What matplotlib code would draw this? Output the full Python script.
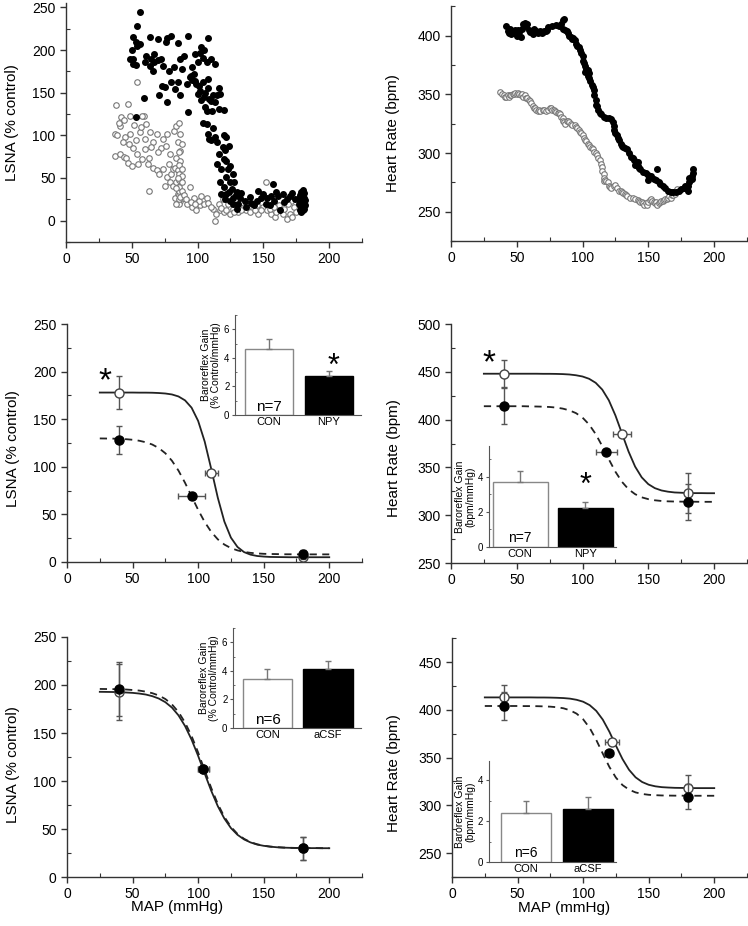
import numpy as np
import matplotlib.pyplot as plt
from matplotlib.ticker import MultipleLocator

plt.rcParams['font.family'] = ['Liberation Sans', 'DejaVu Sans']

# ---- top-left: raw LSNA vs MAP (filled = NPY, open = control)
lsna_npy_x = [56, 54, 51, 53, 56, 54, 50, 49, 51, 51, 53, 59, 53,
              64, 70, 77, 80, 76, 85, 93, 108, 103, 105,
              61, 67, 67, 65, 70, 74, 78, 82, 87, 90, 98, 102, 104, 107, 64, 66, 60, 72, 88, 96, 100, 110, 113,
              73, 75, 71, 77, 80, 85, 87, 83, 92, 94, 97, 98, 101, 102, 104, 108, 109, 103, 100, 93, 106, 111,
              116, 113, 116, 117, 115, 112, 95, 96, 99, 106, 108, 110, 105, 107, 120,
              104, 107, 108, 112, 109, 113, 120, 122, 124, 119, 115, 116, 120, 115, 122, 125, 127, 122, 125, 117,
              120, 126, 130, 122, 125, 127, 132, 127, 131, 136, 118, 110, 118, 121, 123, 128, 124, 129, 133, 121,
              137, 141, 145, 150, 153, 156, 158, 157, 161, 165, 170, 168, 163, 130, 140, 146, 148, 152, 160, 166,
              172, 174, 155, 143,
              178, 178, 178, 178, 179, 179, 179, 179, 179, 180, 180, 180, 180, 180, 181, 181, 181, 181, 182, 182,
              177, 177]
lsna_npy_y = [245, 228, 215, 210, 207, 205, 200, 189, 189, 184, 182, 144, 122,
              215, 213, 214, 217, 210, 208, 216, 214, 204, 200,
              193, 195, 186, 189, 188, 181, 176, 180, 189, 193, 195, 197, 191, 186, 181, 176, 186, 190, 178, 180,
              186, 190, 184,
              158, 157, 147, 139, 162, 162, 147, 154, 160, 168, 172, 164, 158, 152, 162, 166, 143, 141, 148, 127,
              133, 129, 131, 139, 155, 149, 147, 147, 170, 165, 160, 150, 156, 140, 145, 128, 130,
              115, 113, 102, 109, 96, 98, 100, 98, 88, 86, 92, 78, 72, 66, 70, 64, 55, 51, 45, 45,
              39, 37, 33, 31, 23, 27, 27, 20, 20, 23, 31, 95, 60, 83, 60, 45, 33, 30, 32, 25,
              16, 21, 23, 31, 27, 29, 23, 43, 29, 31, 29, 25, 12, 14, 28, 35, 26, 20, 33, 22,
              32, 25, 18, 18,
              12, 18, 24, 30, 10, 15, 21, 27, 33, 12, 18, 24, 30, 36, 14, 20, 26, 32, 18, 24,
              20, 26]
lsna_con_x = [54, 38, 47, 59, 37, 39, 41, 45, 49, 53, 56, 60, 64, 66, 69, 74, 77, 37, 41, 44, 46, 47, 50, 54,
              55, 58, 62, 63, 65, 66, 69, 71, 74, 77, 78, 79, 63, 75, 79, 80, 81, 82, 84, 86, 87, 85, 87, 84,
              83, 85, 87, 81, 84, 85, 87, 83, 89, 92, 96, 99, 102, 105, 107, 97, 101, 103, 94, 108, 112, 113,
              116, 117, 120, 125, 127, 131, 135, 137, 142, 146, 150, 152, 153, 156, 159, 163, 165, 168, 170, 173,
              171, 169,
              42, 49, 58, 40, 44, 52, 57, 61, 72, 76, 70, 60, 51, 48, 43,
              86, 86, 86, 86, 86, 86, 86, 86, 86, 88, 88, 88, 88, 88, 85, 84, 87, 84, 90, 91, 95, 98, 110, 114,
              118, 122, 128, 133, 140, 144, 148, 155, 160, 162, 166, 172, 175, 158, 145, 138, 119, 123]
lsna_con_y = [163, 135, 137, 123, 102, 100, 111, 98, 102, 94, 104, 96, 104, 92, 102, 96, 102, 76, 78, 75, 74,
              68, 64, 78, 66, 72, 66, 74, 86, 62, 59, 55, 61, 51, 66, 78, 35, 41, 45, 55, 61, 105, 111, 115,
              102, 92, 82, 74, 62, 59, 70, 41, 45, 31, 23, 27, 27, 20, 16, 12, 18, 20, 27, 27, 23, 29, 39, 21,
              14, 0, 20, 12, 10, 8, 14, 10, 16, 12, 14, 8, 16, 45, 12, 8, 4, 14, 8, 2, 8, 16, 23, 20,
              121, 123, 123, 115, 118, 112, 110, 113, 85, 88, 80, 84, 85, 90, 92,
              20, 25, 30, 35, 40, 48, 55, 65, 80, 35, 45, 52, 60, 90, 50, 38, 28, 20, 30, 25, 22, 20, 16, 8,
              15, 12, 10, 13, 10, 12, 12, 14, 10, 18, 14, 4, 10, 16, 18, 20, 25, 20]

# ---- top-right: raw heart rate vs MAP
hr_npy_x = [42, 43, 44, 45, 46, 47, 48, 49, 50, 51, 52, 53, 54, 55, 56, 57, 58, 59, 60, 61, 62, 63, 64, 65,
            66, 67, 68, 69, 70, 71, 72, 73, 74, 77, 80, 82, 84, 85, 86, 85, 87, 88, 89, 90, 91, 92, 93, 94,
            95, 96, 97, 98, 99, 100, 100, 101, 102, 102, 103, 104, 104, 105, 105, 106, 107, 108, 109, 109,
            110, 110, 111, 112, 113, 114, 116, 118, 120, 122, 123, 124, 124, 125, 126, 127, 128, 129, 130,
            131, 132, 134, 135, 137, 138, 139, 140, 142, 142, 143, 144, 146, 148, 150, 150, 152, 154, 156,
            157, 158, 159, 161, 163, 165, 167, 169, 171, 173, 175, 177, 178, 179, 180, 181, 182, 183, 184,
            184, 183, 180, 181]
hr_npy_y = [408, 404, 402, 406, 401, 404, 402, 405, 400, 405, 403, 399, 406, 410, 411, 408, 410, 405, 403,
            404, 401, 406, 403, 404, 402, 403, 404, 402, 403, 404, 404, 405, 407, 408, 409, 408, 410, 413,
            414, 406, 405, 404, 402, 400, 399, 397, 398, 396, 393, 391, 390, 388, 385, 383, 378, 377, 374,
            369, 372, 371, 366, 364, 368, 361, 358, 356, 354, 349, 345, 341, 340, 337, 334, 333, 331, 330,
            330, 329, 326, 323, 320, 317, 315, 313, 311, 308, 306, 305, 304, 303, 300, 297, 296, 294, 290,
            289, 292, 287, 286, 284, 283, 281, 277, 280, 278, 277, 286, 275, 274, 272, 270, 268, 267, 267,
            267, 268, 269, 270, 272, 270, 272, 275, 277, 280, 283, 286, 278, 268, 279]
hr_con_x = [37.5, 38.5, 40, 41, 42, 43, 44, 45, 46, 47, 48, 49, 50, 51, 52, 53, 54, 55, 56, 57, 58, 59, 60,
            61, 62, 63, 64, 65, 66, 67, 68, 70, 71, 72, 74, 75, 76, 77, 78, 79, 80, 81, 82, 83, 84, 85, 85,
            86, 87, 88, 89, 90, 91, 92, 94, 95, 96, 97, 98, 99, 100, 101, 102, 103, 104, 105, 106, 107, 108,
            109, 110, 111, 112, 113, 114, 115, 115, 116, 116, 116, 117, 118, 119, 120, 121, 122, 124, 125,
            126, 128, 129, 130, 131, 132, 133, 134, 136, 138, 140, 142, 143, 144, 145, 146, 147, 148, 149,
            150, 151, 152, 153, 154, 155, 156, 157, 158, 159, 160, 161, 162, 163, 164, 165, 166, 167, 168,
            169, 170, 171, 172]
hr_con_y = [352, 350, 349, 348, 348, 349, 348, 349, 349, 350, 350, 351, 350, 351, 350, 349, 350, 348, 349,
            347, 347, 345, 344, 343, 340, 338, 338, 337, 336, 337, 336, 337, 337, 336, 337, 338, 338, 337,
            337, 336, 335, 334, 334, 333, 331, 330, 327, 326, 325, 327, 327, 326, 325, 324, 324, 322, 321,
            320, 318, 317, 315, 313, 311, 310, 308, 307, 305, 304, 303, 301, 300, 298, 296, 294, 291, 288,
            285, 282, 279, 276, 277, 276, 275, 272, 271, 270, 272, 273, 270, 268, 268, 267, 266, 265, 264,
            263, 262, 262, 261, 260, 259, 258, 258, 257, 256, 257, 256, 258, 260, 261, 259, 258, 257, 258,
            256, 257, 258, 259, 259, 260, 261, 261, 262, 263, 262, 264, 264, 265, 268, 269]

# ---- fitted baroreflex curves (every 5 mmHg from 25 to 200)
map_grid = list(range(25, 205, 5))
lsna_con_fit = [178, 178, 178, 178, 178, 178, 177.9, 177.9, 177.8, 177.5, 177.0, 176.0, 173.9, 169.8,
                162.1, 148.2, 126.5, 97.7, 67.5, 42.5, 25.6, 15.8, 10.4, 7.7, 6.3, 5.7, 5.3, 5.2, 5.1,
                5.0, 5.0, 5.0, 5.0, 5.0, 5.0, 5.0]
lsna_npy_fit = [129.8, 129.7, 129.6, 129.4, 129.0, 128.4, 127.4, 125.8, 123.4, 119.7, 114.2, 106.4, 96.0,
                83.2, 69.0, 54.8, 42.0, 31.6, 23.8, 18.3, 14.6, 12.2, 10.6, 9.6, 9.0, 8.6, 8.4, 8.3, 8.1,
                8.1, 8.0, 8.0, 8.0, 8.0, 8.0, 8.0]
hr_con_fit = [448, 448, 448, 448, 448, 448, 448, 448, 448, 447.9, 447.9, 447.8, 447.6, 447.2, 446.4, 445.1,
              442.7, 438.5, 431.4, 420.2, 404.4, 385.5, 366.6, 350.8, 339.6, 332.5, 328.3, 325.9, 324.6,
              323.8, 323.5, 323.2, 323.1, 323.1, 323.0, 323.0]
hr_npy_fit = [414, 414, 414, 414, 414, 414, 414, 413.8, 413.7, 413.5, 413.2, 412.6, 411.5, 409.7, 406.8,
              402.1, 394.9, 384.9, 372.3, 358.5, 345.5, 334.9, 327.1, 322.0, 318.7, 316.8, 315.6, 314.9,
              314.5, 314.3, 314.2, 314.1, 314.1, 314.0, 314.0, 314.0]
lsna_con2_fit = [192.9, 192.8, 192.7, 192.5, 192.2, 191.8, 191.1, 190.1, 188.4, 185.9, 182.1, 176.5, 168.4,
                 157.3, 143.1, 126.2, 107.8, 89.8, 73.8, 60.9, 51.0, 44.0, 39.2, 36.0, 33.8, 32.5, 31.6,
                 31.0, 30.6, 30.4, 30.3, 30.2, 30.1, 30.1, 30.0, 30.0]
lsna_acsf_fit = [195.9, 195.8, 195.7, 195.5, 195.3, 194.8, 194.2, 193.1, 191.5, 189.1, 185.4, 179.8, 171.9,
                 160.9, 146.8, 129.7, 111.1, 92.7, 76.1, 62.6, 52.3, 44.9, 39.8, 36.3, 34.1, 32.6, 31.7,
                 31.1, 30.7, 30.4, 30.3, 30.2, 30.1, 30.1, 30.0, 30.0]
hr_con2_fit = [413, 413, 413, 413, 413, 413, 413, 413, 412.9, 412.9, 412.8, 412.6, 412.3, 411.7, 410.5,
               408.5, 404.9, 398.9, 389.7, 377.1, 362.5, 348.5, 337.2, 329.3, 324.4, 321.5, 319.9, 319.0,
               318.6, 318.3, 318.2, 318.1, 318.0, 318.0, 318.0, 318.0]
hr_acsf_fit = [404, 404, 404, 404, 404, 404, 403.9, 403.9, 403.8, 403.6, 403.3, 402.7, 401.6, 399.5,
               396.0, 390.1, 381.0, 368.5, 354.1, 340.2, 329.0, 321.2, 316.4, 313.5, 311.9, 311.0, 310.6,
               310.3, 310.2, 310.1, 310.1, 310.0, 310.0, 310.0, 310.0, 310.0]

# ---- group means (x, y, x error, y error)
lsna_con_pts = dict(x=[40, 110, 180], y=[178, 93, 5], xerr=[0, 5, 0], yerr=[17, 0, 6])
lsna_npy_pts = dict(x=[40, 95, 180], y=[128, 69, 8], xerr=[0, 10, 0], yerr=[15, 0, 5])
hr_con_pts = dict(x=[40, 130, 180], y=[448, 385, 323], xerr=[0, 7, 0], yerr=[14, 0, 21])
hr_npy_pts = dict(x=[40, 118, 180], y=[414, 366, 314], xerr=[0, 8, 0], yerr=[19, 0, 19])
lsna_con2_pts = dict(x=[40, 104, 180], y=[193, 112, 30], xerr=[0, 4, 0], yerr=[29, 0, 12])
lsna_acsf_pts = dict(x=[40, 104, 180], y=[196, 112, 30], xerr=[0, 4, 0], yerr=[28, 0, 12])
hr_con2_pts = dict(x=[40, 122, 180], y=[413, 366, 318], xerr=[0, 5, 0], yerr=[13, 0, 14])
hr_acsf_pts = dict(x=[40, 120, 180], y=[404, 355, 309], xerr=[0, 3, 0], yerr=[15, 0, 13])

# ---- baroreflex gain bars
gain_lsna_npy = [4.65, 2.75]
gain_lsna_npy_err = [0.65, 0.3]
gain_hr_npy = [3.7, 2.2]
gain_hr_npy_err = [0.65, 0.35]
gain_lsna_acsf = [3.45, 4.1]
gain_lsna_acsf_err = [0.65, 0.6]
gain_hr_acsf = [2.4, 2.6]
gain_hr_acsf_err = [0.6, 0.6]

DARK = '#333333'


def style(ax, xmin, xmax, ymin, ymax, ymajor, yminor):
    for s in ['top', 'right']:
        ax.spines[s].set_visible(False)
    for s in ['left', 'bottom']:
        ax.spines[s].set_color(DARK)
        ax.spines[s].set_linewidth(1.0)
    ax.set_xlim(xmin, xmax)
    ax.set_ylim(ymin, ymax)
    ax.xaxis.set_major_locator(MultipleLocator(50))
    ax.xaxis.set_minor_locator(MultipleLocator(25))
    ax.yaxis.set_major_locator(MultipleLocator(ymajor))
    ax.yaxis.set_minor_locator(MultipleLocator(yminor))
    ax.tick_params(which='major', direction='out', length=4, width=1, color=DARK, labelsize=10)
    ax.tick_params(which='minor', direction='in', length=3, width=0.8, color=DARK)


def curves(ax, con_fit, trt_fit, con, trt):
    ax.plot(map_grid, con_fit, color='#222222', lw=1.3, zorder=2)
    ax.plot(map_grid, trt_fit, color='#222222', lw=1.3, ls=(0, (4, 3)), zorder=2)
    ax.errorbar(con['x'], con['y'], xerr=con['xerr'], yerr=con['yerr'], fmt='o', ms=6.5,
                mfc='white', mec='#444444', mew=1, ecolor='#555555', elinewidth=1, capsize=2, zorder=3)
    ax.errorbar(trt['x'], trt['y'], xerr=trt['xerr'], yerr=trt['yerr'], fmt='o', ms=6.5,
                mfc='black', mec='black', ecolor='#555555', elinewidth=1, capsize=2, zorder=4)


def inset(rect, vals, errs, labels, ylab, ylim, xlim, width, nlabel, nsize, star=None):
    ax = fig.add_axes(rect)
    ax.set_facecolor('none')
    ax.bar([0, 1], vals, width=width, color=['white', 'black'], edgecolor=['#888888', 'black'],
           linewidth=1, zorder=2)
    ax.errorbar([0, 1], vals, yerr=[[0, 0], errs], fmt='none', ecolor='#777777', elinewidth=1,
                capsize=2.5, zorder=3)
    for s in ['top', 'right']:
        ax.spines[s].set_visible(False)
    for s in ['left', 'bottom']:
        ax.spines[s].set_color('#555555')
        ax.spines[s].set_linewidth(0.8)
    ax.set_xlim(*xlim)
    ax.set_ylim(*ylim)
    ax.set_xticks([0, 1])
    ax.set_xticklabels(labels)
    ax.yaxis.set_major_locator(MultipleLocator(2))
    ax.yaxis.set_minor_locator(MultipleLocator(1))
    ax.tick_params(axis='x', length=0, labelsize=8, pad=1.5)
    ax.tick_params(axis='y', which='major', length=2.5, width=0.8, labelsize=7, pad=1.5,
                   color='#555555')
    ax.tick_params(axis='y', which='minor', direction='in', length=1.5, width=0.6, color='#555555')
    ax.set_ylabel(ylab, fontsize=7.5, linespacing=1.0, labelpad=2)
    ax.text(0, ylim[1] * 0.015, nlabel, ha='center', va='bottom', fontsize=nsize)
    if star is not None:
        ax.text(star[0], star[1], '*', ha='center', va='center', fontsize=22)
    return ax


fig = plt.figure(figsize=(7.48, 9.26), dpi=100)

# top-left
ax1 = fig.add_axes([0.0882, 0.7387, 0.3957, 0.2579])
style(ax1, 0, 225, -25, 255, 50, 25)
ax1.scatter(lsna_con_x, lsna_con_y, s=16, facecolors='white', edgecolors='#777777', linewidths=0.8, zorder=2)
ax1.scatter(lsna_npy_x, lsna_npy_y, s=16, color='black', zorder=3)
ax1.set_ylabel('LSNA (% control)', fontsize=11)
ax1.yaxis.set_label_coords(-0.158, 0.5)

# top-right
ax2 = fig.add_axes([0.6029, 0.7397, 0.3957, 0.2535])
style(ax2, 0, 225, 225, 425, 50, 25)
ax2.scatter(hr_con_x, hr_con_y, s=16, facecolors='white', edgecolors='#777777', linewidths=0.8, zorder=2)
ax2.scatter(hr_npy_x, hr_npy_y, s=16, color='black', zorder=3)
ax2.set_ylabel('Heart Rate (bpm)', fontsize=11)
ax2.yaxis.set_label_coords(-0.172, 0.46)

# middle-left
ax3 = fig.add_axes([0.0896, 0.3931, 0.3944, 0.2570])
style(ax3, 0, 225, 0, 250, 50, 25)
curves(ax3, lsna_con_fit, lsna_npy_fit, lsna_con_pts, lsna_npy_pts)
ax3.text(29, 189, '*', ha='center', va='center', fontsize=24)
ax3.set_ylabel('LSNA (% control)', fontsize=11)
ax3.yaxis.set_label_coords(-0.159, 0.475)
inset([0.3142, 0.5518, 0.1684, 0.1080], gain_lsna_npy, gain_lsna_npy_err, ['CON', 'NPY'],
      'Baroreflex Gain\n(% Control/mmHg)', (0, 7), (-0.56, 1.54), 0.8, 'n=7', 11, star=(1.08, 3.4))

# middle-right
ax4 = fig.add_axes([0.6029, 0.3920, 0.3957, 0.2581])
style(ax4, 0, 225, 250, 500, 50, 25)
curves(ax4, hr_con_fit, hr_npy_fit, hr_con_pts, hr_npy_pts)
ax4.text(29, 458, '*', ha='center', va='center', fontsize=24)
ax4.set_ylabel('Heart Rate (bpm)', fontsize=11)
ax4.yaxis.set_label_coords(-0.169, 0.44)
inset([0.6537, 0.4093, 0.1698, 0.1091], gain_hr_npy, gain_hr_npy_err, ['CON', 'NPY'],
      'Baroreflex Gain\n(bpm/mmHg)', (0, 5.75), (-0.48, 1.47), 0.84, 'n=7', 10, star=(1.0, 3.5))

# bottom-left
ax5 = fig.add_axes([0.0896, 0.0529, 0.3944, 0.2592])
style(ax5, 0, 225, 0, 250, 50, 25)
curves(ax5, lsna_con2_fit, lsna_acsf_fit, lsna_con2_pts, lsna_acsf_pts)
ax5.set_ylabel('LSNA (% control)', fontsize=11)
ax5.yaxis.set_label_coords(-0.159, 0.467)
ax5.set_xlabel('MAP (mmHg)', fontsize=11)
ax5.xaxis.set_label_coords(0.373, -0.095)
inset([0.3115, 0.2138, 0.1711, 0.1080], gain_lsna_acsf, gain_lsna_acsf_err, ['CON', 'aCSF'],
      'Baroreflex Gain\n(% Control/mmHg)', (0, 7), (-0.57, 1.545), 0.81, 'n=6', 11)

# bottom-right
ax6 = fig.add_axes([0.6043, 0.0530, 0.3944, 0.2578])
style(ax6, 0, 225, 225, 475, 50, 25)
curves(ax6, hr_con2_fit, hr_acsf_fit, hr_con2_pts, hr_acsf_pts)
ax6.set_ylabel('Heart Rate (bpm)', fontsize=11)
ax6.yaxis.set_label_coords(-0.173, 0.435)
ax6.set_xlabel('MAP (mmHg)', fontsize=11)
ax6.xaxis.set_label_coords(0.38, -0.1)
inset([0.6537, 0.0691, 0.1698, 0.1091], gain_hr_acsf, gain_hr_acsf_err, ['CON', 'aCSF'],
      'Baroreflex Gain\n(bpm/mmHg)', (0, 4.95), (-0.6, 1.46), 0.81, 'n=6', 10)

fig.savefig('out.png', dpi=100)
